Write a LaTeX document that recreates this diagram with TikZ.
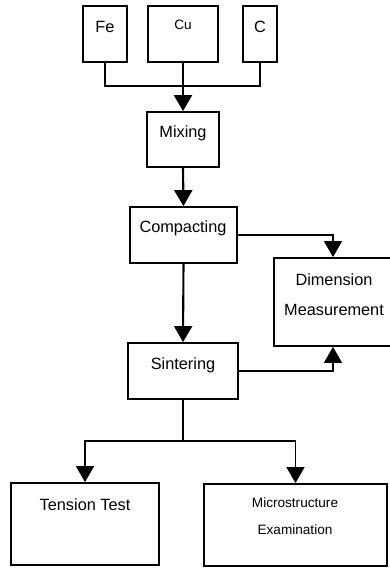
\documentclass[tikz,border=0pt]{standalone}
\usepackage{fontspec}
\setmainfont{Liberation Sans}
\usetikzlibrary{arrows.meta}
\begin{document}
\begin{tikzpicture}[x=1pt,y=-1pt,
  box/.style={draw=black,line width=1.8pt,rectangle,inner sep=0pt},
  lbl/.style={inner sep=0pt,font=\fontsize{16.3}{19}\selectfont},
  small/.style={inner sep=0pt,font=\fontsize{13.6}{16}\selectfont},
  flow/.style={line width=2.1pt},
  side/.style={line width=1.4pt},
  tip/.style={-{Triangle[width=18pt 0,length=16pt 0]}}]
\useasboundingbox (0,0) rectangle (390,568);

% process boxes
\node[box,minimum width=44pt,minimum height=56pt] (fe) at (105,34) {};
\node[box,minimum width=70pt,minimum height=56pt] (cu) at (183,34) {};
\node[box,minimum width=34pt,minimum height=56pt] (cc) at (260,34) {};
\node[box,minimum width=72pt,minimum height=55pt] (mix) at (183,139.5) {};
\node[box,minimum width=107pt,minimum height=56pt] (comp) at (183.5,235) {};
\node[box,minimum width=118pt,minimum height=88pt] (dim) at (333,302) {};
\node[box,minimum width=110pt,minimum height=56pt] (sint) at (183,371) {};
\node[box,minimum width=148pt,minimum height=82pt] (tens) at (85,524) {};
\node[box,minimum width=183pt,minimum height=82pt] (micro) at (295.5,525) {};

% box texts
\node[lbl] (tfe) at (105,27) {Fe};
\node[small] (tcu) at (183,25) {Cu};
\node[lbl] (tc) at (260,27) {C};
\node[lbl] (tmix) at (183,133) {Mixing};
\node[lbl] (tcomp) at (183,228) {Compacting};
\node[lbl] (tdim1) at (334,280) {Dimension};
\node[lbl] (tdim2) at (334,310) {Measurement};
\node[lbl] (tsint) at (183,365) {Sintering};
\node[lbl] (ttens) at (85,505) {Tension Test};
\node[small] (tmic1) at (295,503) {Microstructure};
\node[small] (tmic2) at (295,530) {Examination};

% junction points
\coordinate (j1) at (183,86);
\coordinate (j2) at (183,441);

% connectors
\draw[side] (fe.south) |- (j1);
\draw[side] (cc.south) |- (j1);
\draw[flow,tip] (cu.south) -- (mix.north);
\draw[flow,tip] (mix.south) -- (comp.north);
\draw[flow,tip] (comp.south) -- (sint.north);
\draw[side,tip] (comp.east) -| (dim.north);
\draw[side,tip] (sint.east) -| (dim.south);
\draw[flow] (sint.south) -- (j2);
\draw[side,tip] (j2) -| (tens.north);
\draw[side,tip] (j2) -| (micro.north);
\end{tikzpicture}
\end{document}
